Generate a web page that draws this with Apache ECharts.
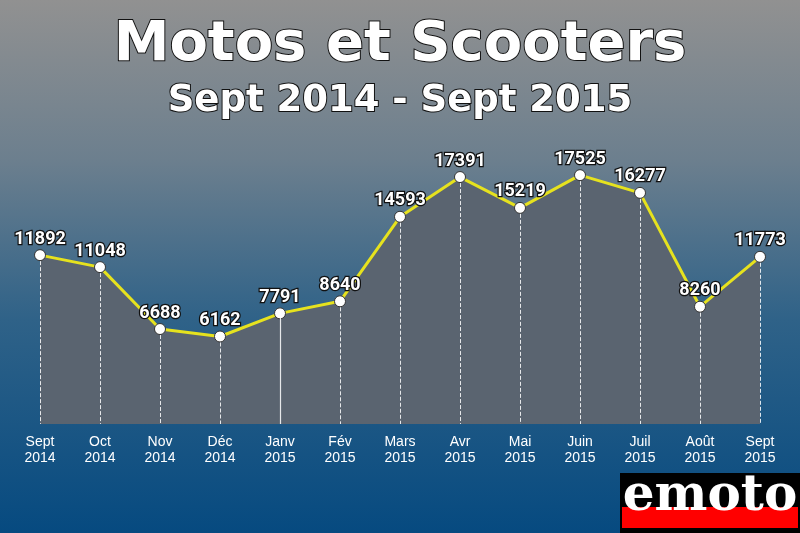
<!DOCTYPE html>
<html><head><meta charset="utf-8">
<script src="https://cdn.jsdelivr.net/npm/echarts@6/dist/echarts.min.js"></script>
<style>html,body{margin:0;padding:0;}#c{width:800px;height:533px;}</style>
</head><body><div id="c"></div>
<script>
const months = ['Sept','Oct','Nov','Déc','Janv','Fév','Mars','Avr','Mai','Juin','Juil','Août','Sept'];
const years = ['2014','2014','2014','2014','2015','2015','2015','2015','2015','2015','2015','2015','2015'];
const values = [11892,11048,6688,6162,7791,8640,14593,17391,15219,17525,16277,8260,11773];
const titleText = 'Motos et Scooters';
const subtitleText = 'Sept 2014 - Sept 2015';
const categories = months.map((m,i)=>m+'\n'+years[i]);

const chart = echarts.init(document.getElementById('c'));
const markData = values.map((v,i)=>[
  {coord:[i,v], lineStyle:{type: i===4?'solid':'dashed', width: i===4?1.2:1, color:'rgba(255,255,255,0.85)'}},
  {coord:[i,0]}
]);
chart.setOption({
  backgroundColor: new echarts.graphic.LinearGradient(0,0,0,1,[
    {offset:0,color:'#919191'},
    {offset:0.3,color:'#6c7f8e'},
    {offset:0.6,color:'#2f6288'},
    {offset:1,color:'#064a80'}
  ]),
  title:[
    {text:titleText,left:'center',top:12,textStyle:{fontFamily:'DejaVu Sans',fontWeight:'bold',fontSize:56,color:'#fff',textBorderColor:'#111',textBorderWidth:2}},
    {text:subtitleText,left:'center',top:78,textStyle:{fontFamily:'DejaVu Sans',fontWeight:'bold',fontSize:37,color:'#fff',textBorderColor:'#111',textBorderWidth:2}}
  ],
  grid:{left:40,right:40,top:140,bottom:109},
  xAxis:{type:'category',data:categories,boundaryGap:false,
    axisLine:{show:false},axisTick:{show:false},splitLine:{show:false},
    axisLabel:{color:'#fff',fontFamily:'Liberation Sans',fontSize:14,lineHeight:16,margin:10,interval:0}},
  yAxis:{type:'value',min:0,max:20000,show:false,splitLine:{show:false}},
  series:[{
    type:'line',data:values,
    symbol:'circle',symbolSize:11,
    itemStyle:{color:'#fff',borderColor:'#333',borderWidth:1},
    lineStyle:{color:'#e6e21e',width:3},
    areaStyle:{color:'#5a6470',opacity:1},
    label:{show:true,position:'top',distance:1,color:'#fff',fontFamily:'Roboto',fontWeight:'bold',fontSize:18,textBorderColor:'#111',textBorderWidth:2.5},
    markLine:{silent:true,symbol:'none',label:{show:false},data:markData},
    z:3
  }],
  graphic:[
    {type:'rect',shape:{x:620,y:473,width:180,height:60},style:{fill:'#000'}},
    {type:'rect',shape:{x:622,y:507,width:176,height:21},style:{fill:'#f00'}},
    {type:'text',x:710,y:497,style:{text:'emoto',fill:'#fff',font:'bold 50px "DejaVu Serif"',textAlign:'center',textVerticalAlign:'middle'}}
  ]
});
</script></body></html>
